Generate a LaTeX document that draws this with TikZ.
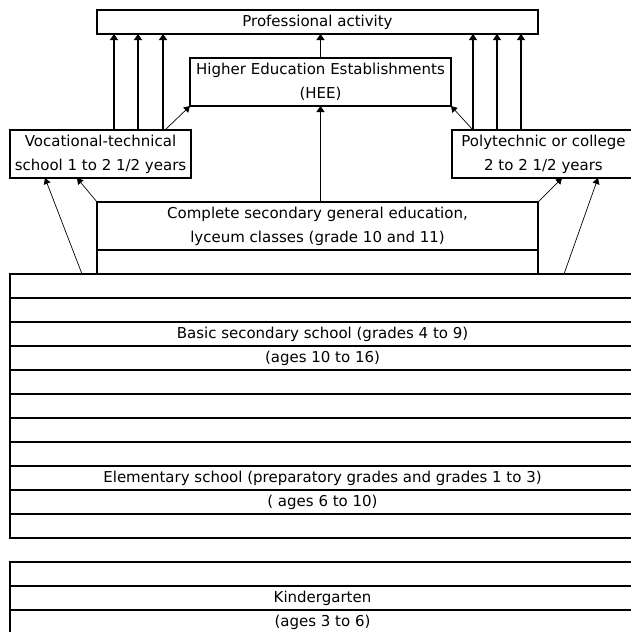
\documentclass[tikz,border=0pt]{standalone}
\usepackage{fontspec}
\setmainfont{DejaVu Sans}
\usetikzlibrary{positioning,arrows.meta}

\begin{document}
\begin{tikzpicture}[
    x=1pt, y=-1pt,
    box/.style={draw, line width=1.3pt, align=center, inner sep=0pt, outer sep=0pt, font=\fontsize{15}{24}\selectfont},
    row/.style={draw, line width=1.3pt, inner sep=0pt, outer sep=0pt, minimum width=625pt, minimum height=24pt, font=\fontsize{15}{24}\selectfont},
    up/.style={-{Triangle[width=8pt,length=6pt]}, line width=1.3pt},
    feed/.style={-{Triangle[width=7pt,length=6pt]}, line width=0.7pt},
    node distance=0pt
  ]
    \useasboundingbox (0,0) rectangle (630,632);

    % upper boxes
    \node[box, minimum width=441pt, minimum height=24pt] (prof) at (317.5,22) {Professional activity};
    \node[box, minimum width=261pt, minimum height=48pt] (hee) at (320.5,82) {Higher Education Establishments\\(HEE)};
    \node[box, minimum width=181pt, minimum height=48pt] (voc) at (100.5,154) {Vocational-technical\\school 1 to 2 1/2 years};
    \node[box, minimum width=183pt, minimum height=48pt] (poly) at (543.5,154) {Polytechnic or college\\2 to 2 1/2 years};

    % complete secondary
    \node[box, minimum width=441pt, minimum height=48pt] (sec1) at (317.5,226) {Complete secondary general education,\\lyceum classes (grade 10 and 11)};
    \node[box, minimum width=441pt, minimum height=24pt, below=of sec1] (sec2) {};

    % basic secondary and elementary school
    \node[row] (b1) at (322.5,286) {};
    \node[row, below=of b1] (b2) {};
    \node[row, below=of b2] (b3) {Basic secondary school (grades 4 to 9)};
    \node[row, below=of b3] (b4) {(ages 10 to 16)};
    \node[row, below=of b4] (b5) {};
    \node[row, below=of b5] (b6) {};
    \node[row, below=of b6] (b7) {};
    \node[row, below=of b7] (b8) {};
    \node[row, below=of b8] (b9) {Elementary school (preparatory grades and grades 1 to 3)};
    \node[row, below=of b9] (b10) {( ages 6 to 10)};
    \node[row, below=of b10] (b11) {};

    % kindergarten
    \node[row] (k1) at (322.5,574) {};
    \node[row, below=of k1] (k2) {Kindergarten};
    \node[row, below=of k2] (k3) {(ages 3 to 6)};

    % arrows to professional activity
    \draw[up] (voc.north -| 114,0) -- (prof.south -| 114,0);
    \draw[up] (voc.north -| 138,0) -- (prof.south -| 138,0);
    \draw[up] (voc.north -| 163,0) -- (prof.south -| 163,0);
    \draw[up] (poly.north -| 473,0) -- (prof.south -| 473,0);
    \draw[up] (poly.north -| 497,0) -- (prof.south -| 497,0);
    \draw[up] (poly.north -| 521,0) -- (prof.south -| 521,0);
    \draw[up] (hee.north) -- (hee.north |- prof.south);
    \draw[up] (sec1.north -| hee.north) -- (hee.south);

    % thin feeds
    \draw[feed] (voc.north -| 165,0) -- (hee.south west);
    \draw[feed] (poly.north -| 473,0) -- (hee.south east);
    \draw[feed] (b1.north -| 82,0) -- (voc.south -| 45,0);
    \draw[feed] (sec1.north west) -- (voc.south -| 77,0);
    \draw[feed] (sec1.north east) -- (poly.south -| 562,0);
    \draw[feed] (b1.north -| 564,0) -- (poly.south -| 598,0);
  \end{tikzpicture}
\end{document}
